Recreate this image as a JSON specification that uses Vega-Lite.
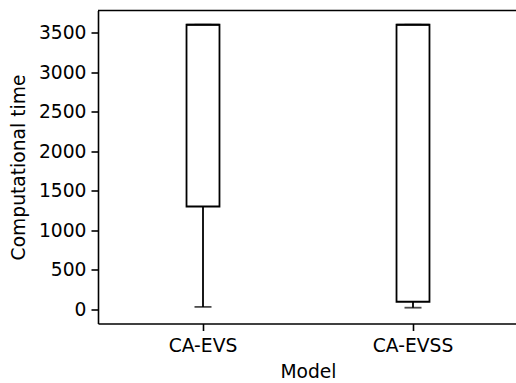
{
  "$schema": "https://vega.github.io/schema/vega-lite/v6.json",
  "width": 420,
  "height": 313,
  "autosize": "none",
  "padding": {"left": 98, "top": 10.5, "right": -2, "bottom": 59.5},
  "background": "white",
  "datasets": {
    "boxes": [
      {"model": "CA-EVS", "lower": 30, "q1": 1300, "median": 3600, "q3": 3600, "upper": 3600},
      {"model": "CA-EVSS", "lower": 20, "q1": 95, "median": 3600, "q3": 3600, "upper": 3600}
    ]
  },
  "layer": [
    {
      "data": {"name": "boxes"},
      "encoding": {
        "x": {
          "field": "model",
          "type": "nominal",
          "title": "Model",
          "scale": {"type": "band", "paddingInner": 0.843, "paddingOuter": 0.4215, "align": 0.5},
          "axis": {"labelAngle": 0}
        }
      },
      "layer": [
        {
          "mark": {"type": "rule", "color": "black", "strokeWidth": 1.8},
          "encoding": {
            "y": {
              "field": "lower",
              "type": "quantitative",
              "title": "Computational time",
              "scale": {"domain": [-180, 3780], "nice": false, "zero": false},
              "axis": {"values": [0, 500, 1000, 1500, 2000, 2500, 3000, 3500], "format": "d"}
            },
            "y2": {"field": "q1"}
          }
        },
        {
          "mark": {"type": "tick", "color": "black", "size": 17, "thickness": 1.8},
          "encoding": {"y": {"field": "lower", "type": "quantitative"}}
        },
        {
          "mark": {"type": "tick", "color": "black", "size": 17, "thickness": 1.8},
          "encoding": {"y": {"field": "upper", "type": "quantitative"}}
        },
        {
          "mark": {"type": "bar", "fill": "white", "stroke": "black", "strokeWidth": 1.8},
          "encoding": {
            "y": {"field": "q1", "type": "quantitative"},
            "y2": {"field": "q3"}
          }
        },
        {
          "mark": {"type": "tick", "color": "black", "size": 33, "thickness": 1.8},
          "encoding": {"y": {"field": "median", "type": "quantitative"}}
        }
      ]
    },
    {
      "description": "top spine of the frame at the upper end of the y domain",
      "data": {"values": [{}]},
      "mark": {"type": "rule", "color": "black", "strokeWidth": 1.6},
      "encoding": {"y": {"datum": 3780, "type": "quantitative"}}
    }
  ],
  "config": {
    "font": "DejaVu Sans",
    "view": {"stroke": null},
    "axis": {
      "grid": false,
      "domainColor": "black",
      "domainWidth": 1.6,
      "tickColor": "black",
      "tickWidth": 1.6,
      "tickSize": 7,
      "labelFont": "DejaVu Sans",
      "labelFontSize": 18.7,
      "labelColor": "black",
      "titleFont": "DejaVu Sans",
      "titleFontSize": 18.7,
      "titleFontWeight": "normal",
      "titleColor": "black"
    },
    "axisY": {"labelPadding": 5, "titlePadding": 10},
    "axisX": {"labelPadding": 6, "titlePadding": 7}
  }
}
